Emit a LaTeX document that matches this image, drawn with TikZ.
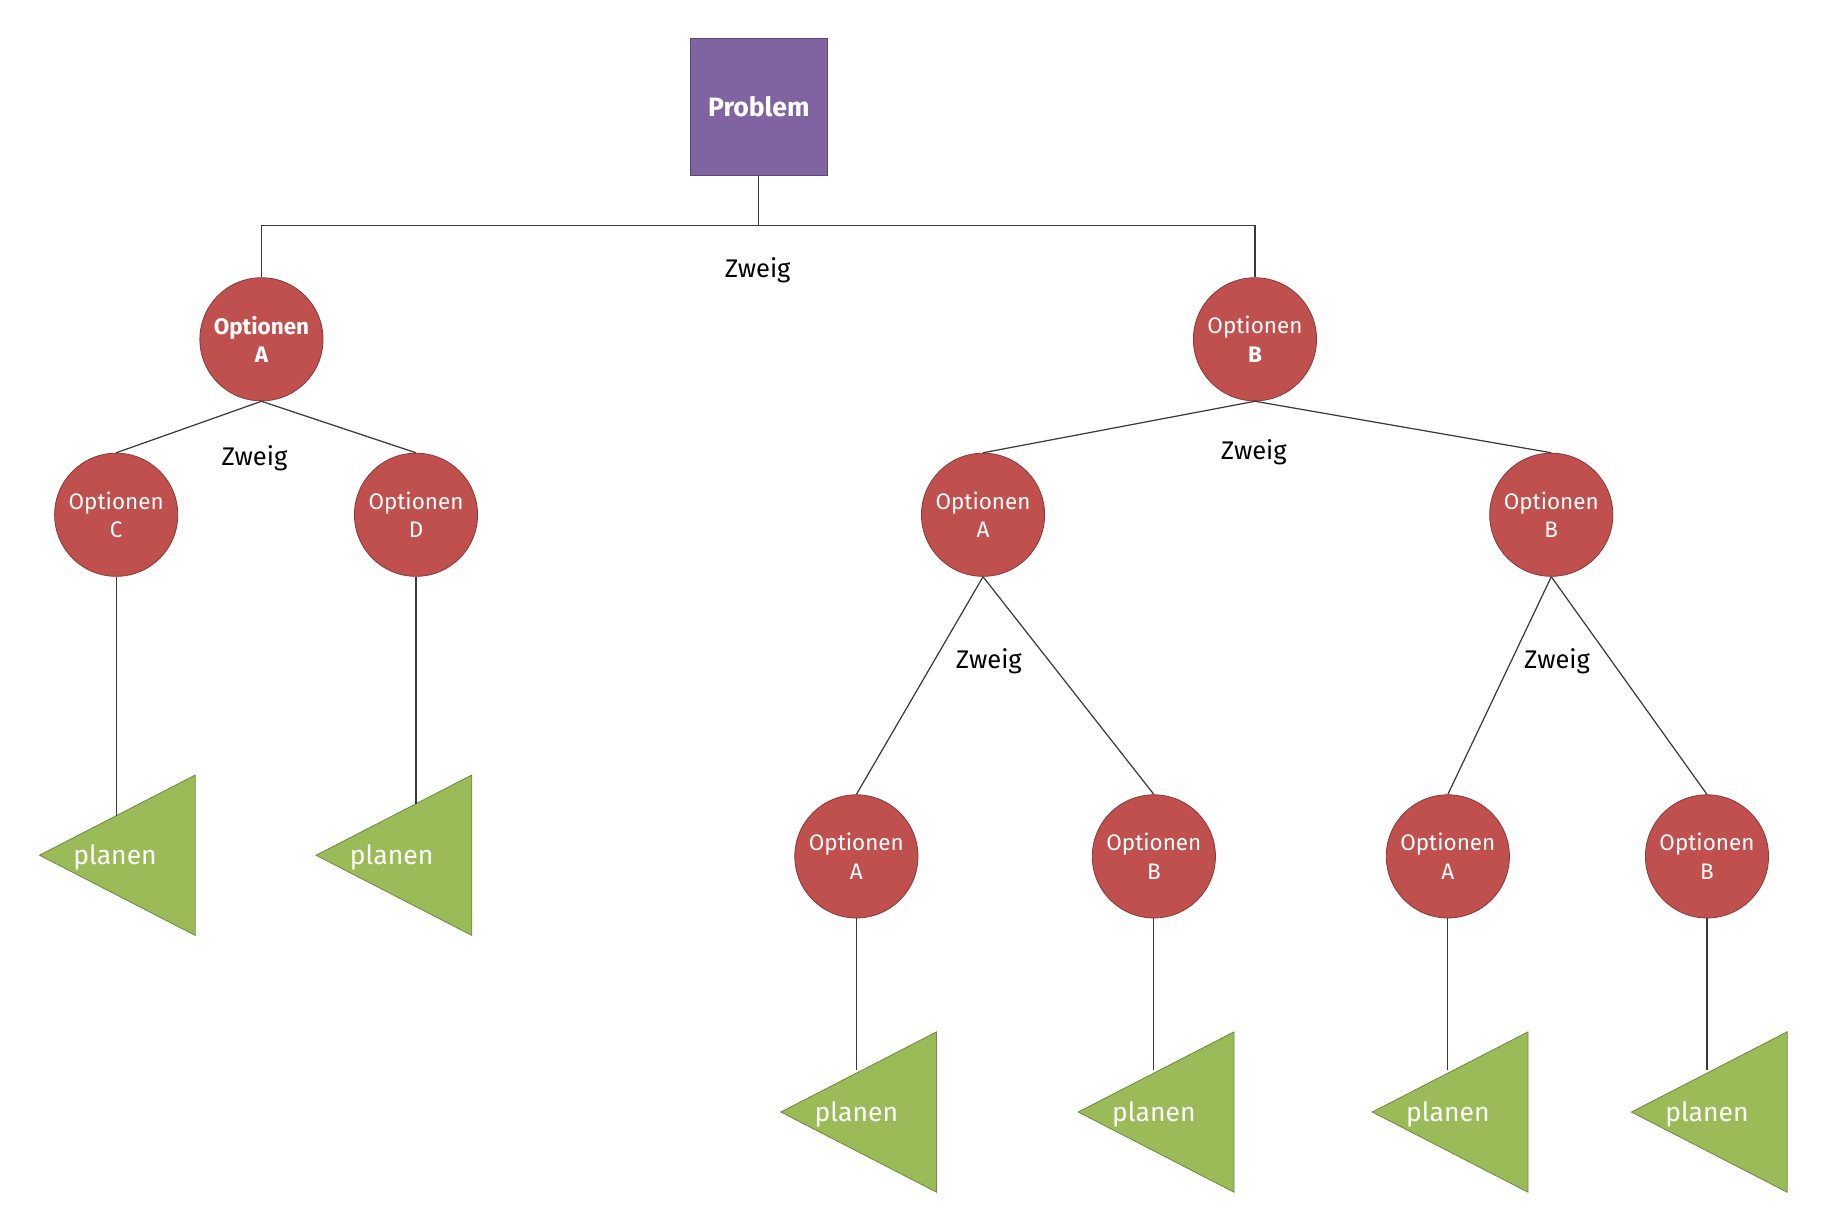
\documentclass[tikz,border=0pt]{standalone}
\usepackage{fontspec}
\setmainfont{Fira Sans}
\definecolor{probfill}{HTML}{8064A2}
\definecolor{probdraw}{HTML}{5C4776}
\definecolor{optfill}{HTML}{C0504D}
\definecolor{optdraw}{HTML}{8C3836}
\definecolor{planfill}{HTML}{9BBB59}
\definecolor{plandraw}{HTML}{71893F}
\definecolor{linecol}{HTML}{3A3A3A}
\begin{document}
\begin{tikzpicture}[
  x=0.02cm, y=-0.02cm,
  prob/.style={draw=probdraw,fill=probfill,minimum size=2.36cm,text=white,font=\fontsize{13}{15}\selectfont\bfseries},
  opt/.style={circle,draw=optdraw,fill=optfill,minimum size=2.12cm,inner sep=0pt,align=center,text=white,font=\fontsize{11}{14}\selectfont},
  plan/.style={draw=plandraw,fill=planfill},
  lbl/.style={text=white,font=\fontsize{13}{15}\selectfont},
  zweig/.style={font=\fontsize{12.5}{15}\selectfont},
  conn/.style={draw=linecol,line width=0.6pt}
]
\useasboundingbox (0,0) rectangle (1568,1057);
% --- Nodes ---
\node[prob] (P) at (653,92) {Problem};

% first level
\node[opt] (OA) at (225,292) {\bfseries Optionen\\\bfseries A};
\node[opt] (OB) at (1080,292) {Optionen\\\bfseries B};

% left subtree
\node[opt] (OC) at (100,443) {Optionen\\C};
\node[opt] (OD) at (358,443) {Optionen\\D};

% right subtree
\node[opt] (OBA) at (846,443) {Optionen\\A};
\node[opt] (OBB) at (1335,443) {Optionen\\B};
\node[opt] (OBAA) at (737,737) {Optionen\\A};
\node[opt] (OBAB) at (993,737) {Optionen\\B};
\node[opt] (OBBA) at (1246,737) {Optionen\\A};
\node[opt] (OBBB) at (1469,737) {Optionen\\B};

% triangles
\foreach \n/\ax/\ay/\tx in {PC/34/736/99, PD/272/736/337,
    PA3/672/957/737, PB3/928/957/993, PA4/1181/957/1246, PB4/1404/957/1469}{
  \draw[plan] (\ax,\ay) -- ++(134,-69) -- ++(0,138) -- cycle;
  \node[lbl] (\n) at (\tx,\ay+2) {planen};
}
\coordinate (cC) at (100,702);
\coordinate (cD) at (358,692);
\coordinate (cA3) at (737,921);
\coordinate (cB3) at (993,921);
\coordinate (cA4) at (1246,921);
\coordinate (cB4) at (1469,921);

% labels
\node[zweig] (Z1) at (652,233) {Zweig};
\node[zweig] (Z2) at (219,394) {Zweig};
\node[zweig] (Z3) at (1079,389) {Zweig};
\node[zweig] (Z4) at (851,569) {Zweig};
\node[zweig] (Z5) at (1340,569) {Zweig};

% --- Connectors ---
\coordinate (bus) at (653,194);
\draw[conn] (P.south) -- (bus) -- (OA.north |- bus) -- (OA.north);
\draw[conn] (bus) -- (OB.north |- bus) -- (OB.north);
\draw[conn] (OA.south) -- (OC.north);
\draw[conn] (OA.south) -- (OD.north);
\draw[conn] (OB.south) -- (OBA.north);
\draw[conn] (OB.south) -- (OBB.north);
\draw[conn] (OBA.south) -- (OBAA.north);
\draw[conn] (OBA.south) -- (OBAB.north);
\draw[conn] (OBB.south) -- (OBBA.north);
\draw[conn] (OBB.south) -- (OBBB.north);
\draw[conn] (OC.south) -- (cC);
\draw[conn] (OD.south) -- (cD);
\draw[conn] (OBAA.south) -- (cA3);
\draw[conn] (OBAB.south) -- (cB3);
\draw[conn] (OBBA.south) -- (cA4);
\draw[conn] (OBBB.south) -- (cB4);
\end{tikzpicture}
\end{document}
